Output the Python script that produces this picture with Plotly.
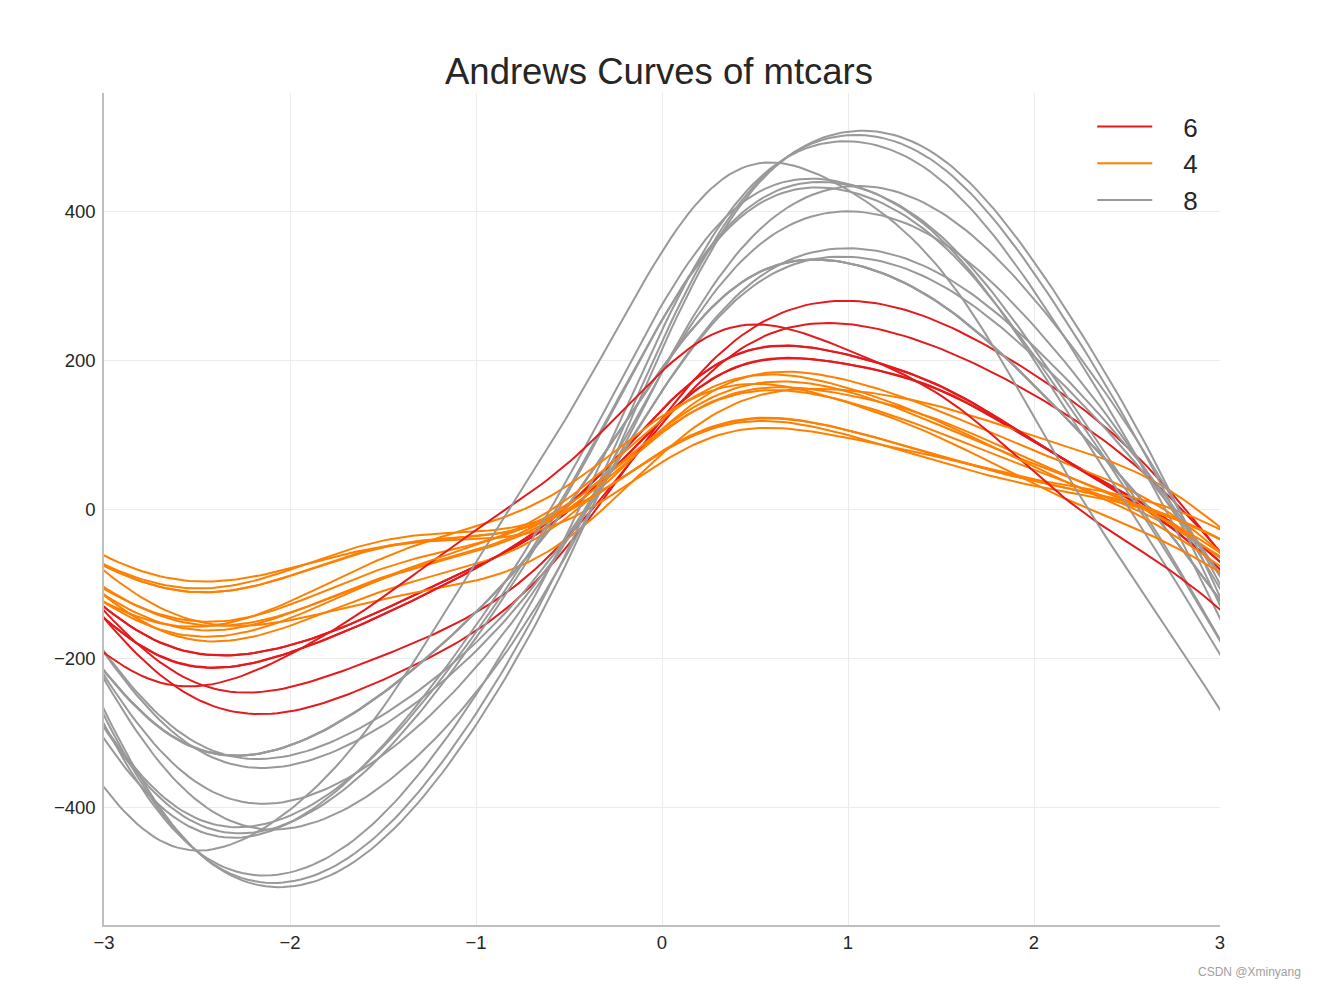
import numpy as np
import plotly.graph_objects as go

# mtcars (selva86 version: mpg stored as sqrt(mpg), plus 'fast' column)
car_names = ["Mazda RX4", "Mazda RX4 Wag", "Datsun 710", "Hornet 4 Drive", "Hornet Sportabout",
             "Valiant", "Duster 360", "Merc 240D", "Merc 230", "Merc 280", "Merc 280C",
             "Merc 450SE", "Merc 450SL", "Merc 450SLC", "Cadillac Fleetwood",
             "Lincoln Continental", "Chrysler Imperial", "Fiat 128", "Honda Civic",
             "Toyota Corolla", "Toyota Corona", "Dodge Challenger", "AMC Javelin",
             "Camaro Z28", "Pontiac Firebird", "Fiat X1-9", "Porsche 914-2", "Lotus Europa",
             "Ford Pantera L", "Ferrari Dino", "Maserati Bora", "Volvo 142E"]
mpg_raw = [21.0, 21.0, 22.8, 21.4, 18.7, 18.1, 14.3, 24.4, 22.8, 19.2, 17.8, 16.4, 17.3, 15.2,
           10.4, 10.4, 14.7, 32.4, 30.4, 33.9, 21.5, 15.5, 15.2, 13.3, 19.2, 27.3, 26.0, 30.4,
           15.8, 19.7, 15.0, 21.4]
cyl = [6, 6, 4, 6, 8, 6, 8, 4, 4, 6, 6, 8, 8, 8, 8, 8, 8, 4, 4, 4, 4, 8, 8, 8, 8, 4, 4, 4, 8, 6, 8, 4]
disp = [160.0, 160.0, 108.0, 258.0, 360.0, 225.0, 360.0, 146.7, 140.8, 167.6, 167.6, 275.8,
        275.8, 275.8, 472.0, 460.0, 440.0, 78.7, 75.7, 71.1, 120.1, 318.0, 304.0, 350.0,
        400.0, 79.0, 120.3, 95.1, 351.0, 145.0, 301.0, 121.0]
hp = [110, 110, 93, 110, 175, 105, 245, 62, 95, 123, 123, 180, 180, 180, 205, 215, 230, 66,
      52, 65, 97, 150, 150, 245, 175, 66, 91, 113, 264, 175, 335, 109]
drat = [3.90, 3.90, 3.85, 3.08, 3.15, 2.76, 3.21, 3.69, 3.92, 3.92, 3.92, 3.07, 3.07, 3.07,
        2.93, 3.00, 3.23, 4.08, 4.93, 4.22, 3.70, 2.76, 3.15, 3.73, 3.08, 4.08, 4.43, 3.77,
        4.22, 3.62, 3.54, 4.11]
wt = [2.620, 2.875, 2.320, 3.215, 3.440, 3.460, 3.570, 3.190, 3.150, 3.440, 3.440, 4.070,
      3.730, 3.780, 5.250, 5.424, 5.345, 2.200, 1.615, 1.835, 2.465, 3.520, 3.435, 3.840,
      3.845, 1.935, 2.140, 1.513, 3.170, 2.770, 3.570, 2.780]
qsec = [16.46, 17.02, 18.61, 19.44, 17.02, 20.22, 15.84, 20.00, 22.90, 18.30, 18.90, 17.40,
        17.60, 18.00, 17.98, 17.82, 17.42, 19.47, 18.52, 19.90, 20.01, 16.87, 17.30, 15.41,
        17.05, 18.90, 16.70, 16.90, 14.50, 15.50, 14.60, 18.60]
vs = [0, 0, 1, 1, 0, 1, 0, 1, 1, 1, 1, 0, 0, 0, 0, 0, 0, 1, 1, 1, 1, 0, 0, 0, 0, 1, 0, 1, 0, 0, 0, 1]
am = [1, 1, 1, 0, 0, 0, 0, 0, 0, 0, 0, 0, 0, 0, 0, 0, 0, 1, 1, 1, 0, 0, 0, 0, 0, 1, 1, 1, 1, 1, 1, 1]
gear = [4, 4, 4, 3, 3, 3, 3, 4, 4, 4, 4, 3, 3, 3, 3, 3, 3, 4, 4, 4, 3, 3, 3, 3, 3, 4, 5, 5, 5, 5, 5, 4]
carb = [4, 4, 1, 1, 2, 1, 4, 2, 2, 4, 4, 3, 3, 3, 4, 4, 4, 1, 2, 1, 1, 2, 2, 4, 2, 1, 2, 2, 4, 6, 8, 2]
fast = [1 if m > 20 else 0 for m in mpg_raw]
mpg = [float(np.sqrt(m)) for m in mpg_raw]

class_colors = {6: "#e41a1c", 4: "#ff7f00", 8: "#999999"}

features = np.array([mpg, disp, hp, drat, wt, qsec, vs, am, gear, carb, fast], dtype=float).T

t = np.linspace(-np.pi, np.pi, 200)


def andrews(amps):
    res = amps[0] / np.sqrt(2.0) * np.ones_like(t)
    coeffs = np.resize(amps[1:], (int((amps.size - 1 + 1) / 2), 2))
    for k, (a, b) in enumerate(coeffs, start=1):
        res = res + a * np.sin(k * t) + b * np.cos(k * t)
    return res


fig = go.Figure()
seen = set()
all_y = []
for i, row in enumerate(features):
    c = cyl[i]
    y = andrews(row)
    all_y.append(y)
    fig.add_trace(go.Scatter(
        x=t, y=y, mode="lines", name="\u2002\u2002" + str(c), legendgroup=str(c),
        showlegend=c not in seen,
        line=dict(color=class_colors[c], width=2),
        hovertext=car_names[i],
    ))
    seen.add(c)

ally = np.concatenate(all_y)
ymin, ymax = ally.min(), ally.max()
pad = 0.05 * (ymax - ymin)

fig.update_layout(
    width=1318, height=990,
    margin=dict(l=104, r=98, t=93, b=65),
    paper_bgcolor="white", plot_bgcolor="white",
    font=dict(family="Liberation Sans, Arial, sans-serif", color="#262626"),
    title=dict(text="Andrews Curves of mtcars", x=0.5, xanchor="center",
               y=1 - 71 / 990, yanchor="middle", yref="container",
               font=dict(size=36.5, color="#262626")),
    showlegend=True,
    legend=dict(x=0.985, y=0.988, xanchor="right", yanchor="top",
                font=dict(size=26, color="#262626"), bgcolor="rgba(0,0,0,0)",
                itemwidth=55, tracegroupgap=0),
)
fig.update_xaxes(range=[-3, 3], tickvals=[-3, -2, -1, 0, 1, 2, 3],
                 ticktext=["\u22123", "\u22122", "\u22121", "0", "1", "2", "3"],
                 showgrid=True, gridcolor="#ebebeb", gridwidth=1,
                 showline=True, linecolor="#bfbfbf", linewidth=1.5,
                 zeroline=False, ticks="", tickfont=dict(size=18.5, color="#262626"))
fig.update_yaxes(range=[ymin - pad, ymax + pad], tickvals=[-400, -200, 0, 200, 400],
                 ticktext=["\u2212400", "\u2212200", "0", "200", "400"],
                 showgrid=True, gridcolor="#ebebeb", gridwidth=1,
                 showline=True, linecolor="#bfbfbf", linewidth=1.5,
                 zeroline=False, ticks="", ticklabelstandoff=3,
                 tickfont=dict(size=18.5, color="#262626"))
fig.add_annotation(text="CSDN @Xminyang", xref="paper", yref="paper",
                   x=(1303 - 104) / 1116, y=-(972 - 925) / 832,
                   xanchor="right", yanchor="middle", showarrow=False,
                   font=dict(size=12, color="#a0a0a0"))
fig.write_html("out.html")
